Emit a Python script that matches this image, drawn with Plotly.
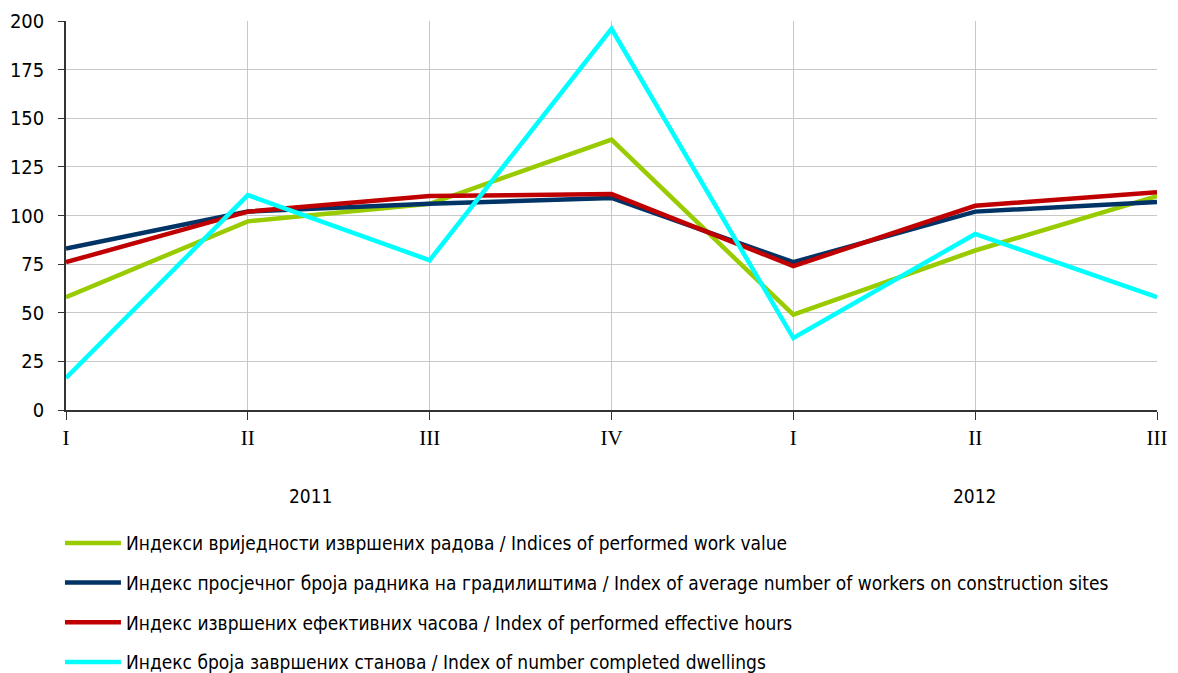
import plotly.graph_objects as go

quarters = ["I", "II", "III", "IV", "I", "II", "III"]
years = ["2011", "2012"]

work_value = [58, 97, 106, 139, 49, 82, 110]
workers = [83, 102, 106, 109, 76, 102, 107]
eff_hours = [76, 102, 110, 111, 74, 105, 112]
dwellings = [16.5, 110.5, 77, 196, 37, 90.5, 58]

names = [
    "Индекси вриједности извршених радова / Indices of performed work value",
    "Индекс просјечног броја радника на градилиштима / Index of average number of workers on construction sites",
    "Индекс извршених ефективних часова / Index of performed effective hours",
    "Индекс броја завршених станова / Index of number completed dwellings",
]
colors = ["#99CC00", "#003366", "#C00000", "#00FFFF"]
series = [work_value, workers, eff_hours, dwellings]

FONT = "'DejaVu Sans Condensed', 'Liberation Sans Narrow', 'DejaVu Sans', sans-serif"

x = list(range(len(quarters)))
fig = go.Figure()
for i, (nm, col, vals) in enumerate(zip(names, colors, series)):
    fig.add_trace(go.Scatter(x=x, y=vals, mode="lines", name=nm,
                             line=dict(color=col, width=4.5),
                             legendgroup=str(i)))

fig.update_layout(
    width=1170, height=665,
    margin=dict(l=58, r=21, t=13, b=263, autoexpand=False),
    paper_bgcolor="white", plot_bgcolor="white",
    font=dict(family=FONT, size=19, color="#000000"),
    showlegend=True,
    legend=dict(x=0.0444, y=0.224, xref="container", yref="container",
                xanchor="left", yanchor="top",
                orientation="v", traceorder="grouped", tracegroupgap=12,
                font=dict(size=19), itemwidth=56, bgcolor="rgba(0,0,0,0)"),
)
fig.update_xaxes(
    range=[0, 6], tickmode="array", tickvals=x, ticktext=quarters,
    showgrid=True, gridcolor="#C8C8C8", gridwidth=1,
    showline=True, linecolor="#333333", linewidth=1.5,
    ticks="outside", ticklen=8, tickcolor="#333333",
    tickfont=dict(family="'Liberation Serif', 'Times New Roman', serif", size=21),
    zeroline=False, automargin=False,
)
fig.update_yaxes(
    range=[0, 200], tickvals=[0, 25, 50, 75, 100, 125, 150, 175, 200],
    showgrid=True, gridcolor="#C8C8C8", gridwidth=1,
    showline=True, linecolor="#333333", linewidth=1.5,
    ticks="outside", ticklen=6, tickcolor="#333333", ticklabelstandoff=10,
    tickfont=dict(size=20), zeroline=False, automargin=False,
)
year_pos = [1.35, 5.0]
for yr, xp in zip(years, year_pos):
    fig.add_annotation(x=xp, xref="x", y=-0.221, yref="paper", text=yr,
                       showarrow=False, font=dict(size=19), yanchor="middle")

fig.write_html("out.html")
